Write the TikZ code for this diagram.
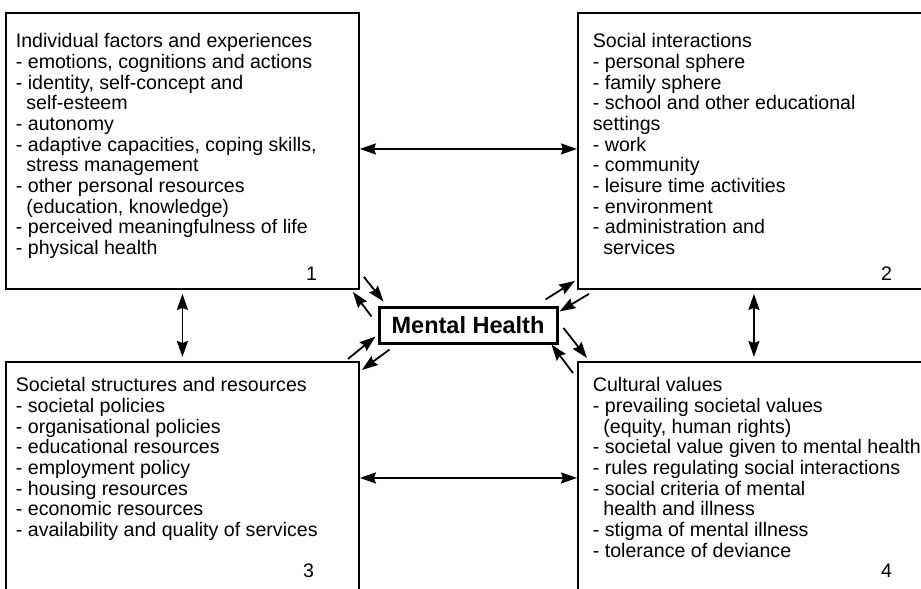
\documentclass[tikz,border=0pt]{standalone}
\usepackage{fontspec}
\setmainfont{Liberation Sans}
\usetikzlibrary{arrows.meta,calc,positioning}

\newcommand{\contline}{\hspace*{10.5pt}}

\tikzset{%
  every factor/.style={
    draw,
    line width=1.9pt,
    minimum width=353pt,
    minimum height=276pt,
    inner sep=0pt,
    anchor=north west
  },
  factor text/.style={
    anchor=north west,
    align=left,
    inner sep=0pt,
    font=\fontsize{19.6}{20.7}\selectfont
  },
  factor number/.style={
    anchor=base east,
    inner sep=0pt,
    font=\fontsize{19.6}{20.7}\selectfont
  },
  centre box/.style={
    draw,
    line width=3pt,
    minimum width=178pt,
    minimum height=36pt,
    inner sep=0pt,
    font=\fontsize{23.5}{24}\selectfont\bfseries
  },
}

\begin{document}
\begin{tikzpicture}[x=1pt, y=-1pt, line width=1.8pt,
    >={Stealth[length=16pt, width=11pt, inset=2pt]}]

    \useasboundingbox (0,0) rectangle (921,589);
    \clip (0,0) rectangle (921,589);

    \node [every factor] (individual) at (5,12) {};
    \node [every factor, minimum width=352pt] (social) at (577,12) {};
    \node [every factor, minimum height=232pt] (societal) at (5,361) {};
    \node [every factor, minimum width=352pt, minimum height=232pt] (cultural) at (577,361) {};

    \node [centre box] (mh) at (468,325) {Mental Health};

    \node [factor text, below right=20.5pt and 10pt of individual.north west] (individual-text) {%
      Individual factors and experiences\\
      - emotions, cognitions and actions\\
      - identity, self-concept and\\
      \contline self-esteem\\
      - autonomy\\
      - adaptive capacities, coping skills,\\
      \contline stress management\\
      - other personal resources\\
      \contline (education, knowledge)\\
      - perceived meaningfulness of life\\
      - physical health};

    \node [factor text, below right=20.5pt and 15pt of social.north west] (social-text) {%
      Social interactions\\
      - personal sphere\\
      - family sphere\\
      - school and other educational\\
      settings\\
      - work\\
      - community\\
      - leisure time activities\\
      - environment\\
      - administration and\\
      \contline services};

    \node [factor text, below right=15.5pt and 10pt of societal.north west] (societal-text) {%
      Societal structures and resources\\
      - societal policies\\
      - organisational policies\\
      - educational resources\\
      - employment policy\\
      - housing resources\\
      - economic resources\\
      - availability and quality of services};

    \node [factor text, below right=15.5pt and 15pt of cultural.north west] (cultural-text) {%
      Cultural values\\
      - prevailing societal values\\
      \contline (equity, human rights)\\
      - societal value given to mental health\\
      - rules regulating social interactions\\
      - social criteria of mental\\
      \contline health and illness\\
      - stigma of mental illness\\
      - tolerance of deviance};

    \foreach \b/\n/\dx/\dy in {individual/1/-42/268, social/2/-38/268, societal/3/-45/216, cultural/4/-38/216}
      \node [factor number] (\b-number) at ($(\b.north east)+(\dx,\dy)$) {\n};

    \draw [<->] ([yshift=2pt]individual.east) -- ([yshift=2pt]social.west);
    \draw [<->] (societal.east) -- (cultural.west);
    \draw [<->] ([yshift=-4pt]individual.south) -- ([yshift=4pt]societal.north);
    \draw [<->] ([yshift=-4pt]social.south) -- ([yshift=4pt]cultural.north);

    \foreach \p/\pa/\q/\qa in {%
        individual.south east/{4,-13}/mh.north west/{6,-4},
        mh.north west/{-6,11}/individual.south east/{-7,2},
        societal.north east/{-12,-2}/mh.south west/{-2,-8},
        mh.south west/{12,5}/societal.north east/{2,9},
        mh.north east/{-13,-6}/social.south west/{-2,-9},
        social.south west/{12,4}/mh.north east/{1,6},
        mh.east/{5,3}/cultural.north west/{10,-3},
        cultural.north west/{-4,12}/mh.south east/{-7,0}}
      \draw [->] ($(\p)+(\pa)$) -- ($(\q)+(\qa)$);

\end{tikzpicture}
\end{document}
